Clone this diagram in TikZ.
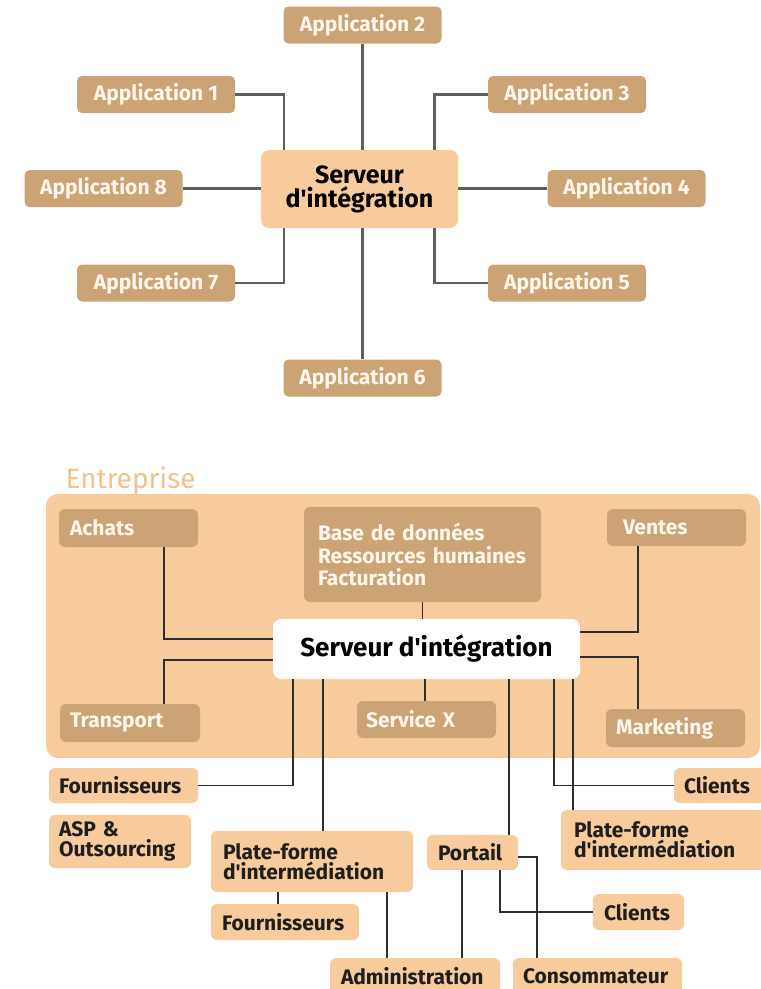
\documentclass[tikz,border=0pt]{standalone}
\usepackage{fontspec}
\setmainfont{Fira Sans}
\definecolor{tan}{HTML}{CCA375}
\definecolor{peach}{HTML}{F7CB9B}
\definecolor{lbl}{HTML}{F4C08B}
\definecolor{lnA}{HTML}{5E5E5E}
\definecolor{lnB}{HTML}{2E2E2E}
\definecolor{txtW}{HTML}{FFF7EE}
\definecolor{txtD}{HTML}{1E1E1E}
\newcommand{\apos}{\textquotesingle}
\tikzset{
  app/.style={fill=tan, rounded corners=5pt, text=txtW, font=\bfseries\fontsize{21}{23}\selectfont,
    minimum width=158pt, minimum height=37pt, inner sep=0pt},
  hub/.style={fill=peach, rounded corners=8pt, text=black, font=\bfseries\fontsize{25}{24}\selectfont,
    minimum width=197pt, minimum height=78pt, inner sep=0pt, align=center},
  connA/.style={draw=lnA, line width=2.2pt},
  connB/.style={draw=lnB, line width=1.8pt},
  inbox/.style={fill=tan, rounded corners=6pt, text=txtW, inner ysep=0pt, align=left,
    font=\bfseries\fontsize{21}{22.5}\selectfont},
  outbox/.style={fill=peach, rounded corners=6pt, text=txtD, inner ysep=0pt, align=left,
    font=\bfseries\fontsize{21}{20}\selectfont},
}
\begin{document}
\begin{tikzpicture}[x=1pt,y=-1pt]
\useasboundingbox (0,0) rectangle (761,989);
% ---------- top diagram ----------
\node[hub] (srvA) at (359.5,189) {Serveur\\d\apos intégration};
\node[app] (a1) at (156,94.5) {Application 1};
\node[app] (a2) at (362.5,25) {Application 2};
\node[app] (a3) at (567,94.5) {Application 3};
\node[app] (a4) at (626.5,188.5) {Application 4};
\node[app] (a5) at (567,283) {Application 5};
\node[app] (a6) at (362.5,378) {Application 6};
\node[app] (a7) at (156,283) {Application 7};
\node[app] (a8) at (103.5,188.5) {Application 8};
\draw[connA] (a1.east) -| ([xshift=-75.5pt]srvA.north);
\draw[connA] (a2.south) -- (a2.south |- srvA.north);
\draw[connA] (a3.west) -| ([xshift=75pt]srvA.north);
\draw[connA] (a8.east) -- (a8.east -| srvA.west);
\draw[connA] (a4.west) -- (a4.west -| srvA.east);
\draw[connA] (a7.east) -| ([xshift=-75.5pt]srvA.south);
\draw[connA] (a5.west) -| ([xshift=75pt]srvA.south);
\draw[connA] (a6.north) -- (a6.north |- srvA.south);
% ---------- bottom diagram ----------
\node[fill=peach, rounded corners=12pt, minimum width=714pt, minimum height=264pt, inner sep=0pt] (ent) at (403,626) {};
\node[anchor=base west, text=lbl, font=\fontsize{28}{30}\selectfont] (entl) at (62,488) {Entreprise};
\node[fill=white, rounded corners=8pt, minimum width=307pt, minimum height=60pt, inner sep=0pt,
  font=\bfseries\fontsize{26}{28}\selectfont, text=black] (srvB) at (426.5,649) {Serveur d\apos intégration};
\node[inbox, text width=117pt, inner xsep=11pt, minimum height=38pt] (ach) at (128.5,528) {Achats};
\node[inbox, text width=209pt, inner xsep=14pt, minimum height=95pt] (bdd) at (422.5,554.5) {Base de données\\Ressources humaines\\Facturation};
\node[inbox, text width=107pt, inner xsep=16pt, minimum height=37pt] (ven) at (676.5,527.5) {Ventes};
\node[inbox, text width=120pt, inner xsep=10pt, minimum height=38pt] (tra) at (130,723) {Transport};
\node[inbox, text width=121pt, inner xsep=9pt, minimum height=37pt] (svc) at (426.5,719.5) {Service X};
\node[inbox, text width=119pt, inner xsep=10pt, minimum height=38pt] (mkt) at (675.5,728) {Marketing};
\node[outbox, text width=129pt, inner xsep=10pt, minimum height=35pt] (fo1) at (123.5,785.5) {Fournisseurs};
\node[outbox, text width=122pt, inner xsep=10pt, minimum height=53pt] (asp) at (120,841.5) {ASP \&\\Outsourcing};
\node[outbox, text width=178pt, inner xsep=12pt, minimum height=61pt] (pfl) at (312,861.5) {Plate-forme\\d\apos intermédiation};
\node[outbox, text width=126pt, inner xsep=11pt, minimum height=36pt] (fo2) at (285,922) {Fournisseurs};
\node[outbox, text width=148pt, inner xsep=11pt, minimum height=36pt] (adm) at (415,976) {Administration};
\node[outbox, text width=69pt, inner xsep=11pt, minimum height=35pt] (por) at (472.5,852.5) {Portail};
\node[outbox, text width=149pt, inner xsep=10pt, minimum height=36pt] (con) at (597.5,976) {Consommateur};
\node[outbox, text width=69pt, inner xsep=11pt, minimum height=36pt] (cl2) at (638.5,912) {Clients};
\node[outbox, text width=72pt, inner xsep=10pt, minimum height=35pt] (cl1) at (720,785.5) {Clients};
\node[outbox, text width=178pt, inner xsep=13pt, minimum height=60pt] (pfr) at (663,840) {Plate-forme\\d\apos intermédiation};
% connectors
\draw[connB] ([xshift=35.5pt]ach.south) |- ([yshift=10pt]srvB.west);
\draw[connB] ([yshift=-11pt]srvB.west) -| ([xshift=34pt]tra.north);
\draw[connB] (bdd.south) -- (bdd.south |- srvB.north);
\draw[connB] ([xshift=-1.5pt]svc.north) -- ([xshift=-1.5pt]svc.north |- srvB.south);
\draw[connB] ([yshift=17pt]srvB.east) -| ([xshift=-38.5pt]ven.south);
\draw[connB] ([yshift=-8pt]srvB.east) -| ([xshift=-37.5pt]mkt.north);
\draw[connB] ([xshift=-133.5pt]srvB.south) |- (fo1.east);
\draw[connB] ([xshift=-103.5pt]srvB.south) -- ([xshift=-103.5pt]srvB.south |- pfl.north);
\draw[connB] ([xshift=82.5pt]srvB.south) -- ([xshift=82.5pt]srvB.south |- por.north);
\draw[connB] ([xshift=127.5pt]srvB.south) |- (cl1.west);
\draw[connB] ([xshift=146.5pt]srvB.south) -- ([xshift=146.5pt]srvB.south |- pfr.north);
\draw[connB] ([xshift=-7pt]fo2.north) -- ([xshift=-7pt]fo2.north |- pfl.south);
\draw[connB] ([xshift=-28pt]adm.north) -- ([xshift=-28pt]adm.north |- pfl.south);
\draw[connB] ([xshift=47pt]adm.north) -- ([xshift=47pt]adm.north |- por.south);
\draw[connB] ([xshift=27.5pt]por.south) |- (cl2.west);
\draw[connB] ([yshift=-4.5pt]por.east) -| ([xshift=-60.5pt]con.north);
\end{tikzpicture}
\end{document}
